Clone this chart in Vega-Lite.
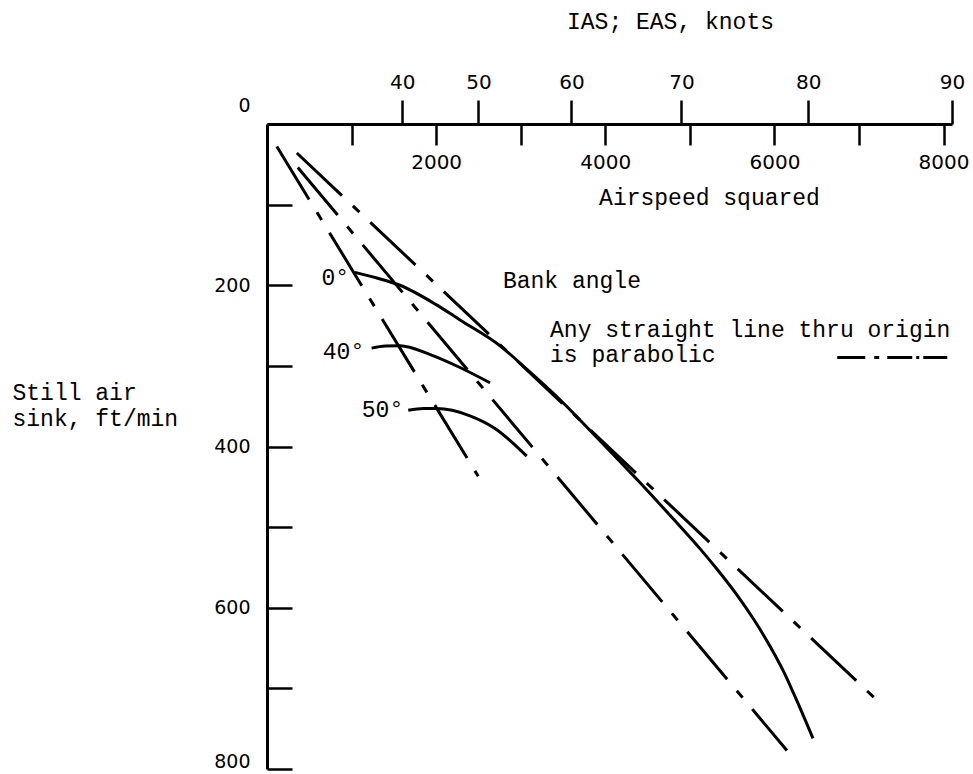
{
  "$schema": "https://vega.github.io/schema/vega-lite/v6.json",
  "width": 685,
  "height": 645,
  "autosize": {"type": "none"},
  "padding": {"left": 267, "top": 124, "right": 21, "bottom": 5},
  "background": "white",
  "datasets": {
    "curves": [
      {"series": "0", "x": 1039, "y": 184},
      {"series": "0", "x": 1300, "y": 191},
      {"series": "0", "x": 1572, "y": 200},
      {"series": "0", "x": 2000, "y": 224},
      {"series": "0", "x": 2282, "y": 243},
      {"series": "0", "x": 2755, "y": 275},
      {"series": "0", "x": 3071, "y": 304},
      {"series": "0", "x": 3465, "y": 342},
      {"series": "0", "x": 3820, "y": 380},
      {"series": "0", "x": 4412, "y": 445},
      {"series": "0", "x": 4806, "y": 490},
      {"series": "0", "x": 5122, "y": 527},
      {"series": "0", "x": 5320, "y": 552},
      {"series": "0", "x": 5556, "y": 584},
      {"series": "0", "x": 5753, "y": 614},
      {"series": "0", "x": 5950, "y": 648},
      {"series": "0", "x": 6108, "y": 679},
      {"series": "0", "x": 6226, "y": 706},
      {"series": "0", "x": 6456, "y": 762},
      {"series": "40", "x": 1237, "y": 278},
      {"series": "40", "x": 1400, "y": 275.5},
      {"series": "40", "x": 1572, "y": 275},
      {"series": "40", "x": 1930, "y": 286},
      {"series": "40", "x": 2282, "y": 302},
      {"series": "40", "x": 2637, "y": 321},
      {"series": "50", "x": 1670, "y": 355},
      {"series": "50", "x": 1850, "y": 353},
      {"series": "50", "x": 2006, "y": 353},
      {"series": "50", "x": 2400, "y": 362},
      {"series": "50", "x": 2700, "y": 378},
      {"series": "50", "x": 3071, "y": 412}
    ],
    "lines": [
      {"series": "A", "x": 116, "y": 28},
      {"series": "A", "x": 2498, "y": 437},
      {"series": "B", "x": 364, "y": 54},
      {"series": "B", "x": 6148, "y": 777},
      {"series": "C", "x": 353, "y": 36},
      {"series": "C", "x": 7185, "y": 712}
    ],
    "notes": [
      {"text": "0°", "x": 645, "y": 191},
      {"text": "40°", "x": 660, "y": 283},
      {"text": "50°", "x": 1121, "y": 355},
      {"text": "Bank angle", "x": 2790, "y": 195},
      {"text": "Any straight line thru origin", "x": 3347, "y": 255},
      {"text": "is parabolic", "x": 3347, "y": 287}
    ],
    "legend": [
      {"x": 6743, "y": 289.5},
      {"x": 8044, "y": 289.5}
    ]
  },
  "encoding": {
    "y": {
      "field": "y",
      "type": "quantitative",
      "scale": {"domain": [0, 800], "reverse": true, "nice": false, "zero": false},
      "axis": {
        "orient": "left",
        "values": [0, 100, 200, 300, 400, 500, 600, 700, 800],
        "format": "d",
        "tickSize": -25,
        "labelPadding": 42,
        "labelFontSize": 19,
        "labelExpr": "datum.value % 200 === 0 ? datum.label : ''",
        "labelOffset": {"condition": [{"test": "datum.value === 0", "value": -19}, {"test": "datum.value === 800", "value": -8}], "value": 0},
        "title": ["Still air", "sink, ft/min"],
        "titleAngle": 0,
        "titleAlign": "left",
        "titleBaseline": "middle",
        "titleX": -255,
        "titleY": 268,
        "titleLineHeight": 26
      }
    }
  },
  "layer": [
    {
      "data": {"name": "curves"},
      "mark": {"type": "line", "interpolate": "monotone", "color": "black", "strokeWidth": 3},
      "encoding": {
        "x": {
          "field": "x",
          "type": "quantitative",
          "scale": {"domain": [0, 8100], "nice": false, "zero": true},
          "axis": {
            "orient": "top",
            "values": [1000, 2000, 3000, 4000, 5000, 6000, 7000, 8000],
            "format": "d",
            "tickSize": -21,
            "labelPadding": -7,
            "labelBaseline": "top",
            "labelExpr": "datum.value % 2000 === 0 ? datum.label : ''",
            "title": "Airspeed squared",
            "titleX": 442,
            "titleY": 73,
            "titleAlign": "center",
            "titleBaseline": "middle",
            "titleAngle": 0
          }
        },
        "detail": {"field": "series", "type": "nominal"}
      }
    },
    {
      "data": {"name": "lines"},
      "mark": {"type": "line", "color": "black", "strokeWidth": 3, "strokeDash": [62, 15, 9, 15], "strokeCap": "butt"},
      "encoding": {
        "x": {
          "field": "x",
          "type": "quantitative",
          "scale": {"domain": [0, 8100], "nice": false, "zero": true},
          "axis": {
            "orient": "top",
            "values": [1600, 2500, 3600, 4900, 6400, 8100],
            "domain": false,
            "tickSize": 24,
            "labelPadding": 12,
            "labelBaseline": "alphabetic",
            "labelExpr": "format(sqrt(datum.value), 'd')",
            "title": "IAS; EAS, knots",
            "titleX": 403,
            "titleY": -103,
            "titleAlign": "center",
            "titleBaseline": "middle",
            "titleAngle": 0
          }
        },
        "detail": {"field": "series", "type": "nominal"}
      }
    },
    {
      "data": {"name": "legend"},
      "mark": {"type": "line", "color": "black", "strokeWidth": 3, "strokeDash": [28, 9, 5, 8, 25, 4, 3, 4, 27], "strokeCap": "butt"},
      "encoding": {
        "x": {"field": "x", "type": "quantitative", "scale": {"domain": [0, 8100], "nice": false, "zero": true}, "axis": null}
      }
    },
    {
      "data": {"name": "notes"},
      "mark": {"type": "text", "align": "left", "baseline": "middle", "font": "Liberation Mono", "fontSize": 23, "color": "black"},
      "encoding": {
        "x": {"field": "x", "type": "quantitative", "scale": {"domain": [0, 8100], "nice": false, "zero": true}, "axis": null},
        "text": {"field": "text", "type": "nominal"}
      }
    }
  ],
  "resolve": {"axis": {"x": "independent"}},
  "config": {
    "view": {"stroke": null},
    "axis": {
      "grid": false,
      "domainColor": "black",
      "domainWidth": 3,
      "tickColor": "black",
      "tickWidth": 2.5,
      "labelColor": "black",
      "labelFont": "DejaVu Sans",
      "labelFontSize": 20,
      "labelOverlap": false,
      "labelFlush": false,
      "titleColor": "black",
      "titleFont": "Liberation Mono",
      "titleFontSize": 23,
      "titleFontWeight": "normal"
    }
  }
}
